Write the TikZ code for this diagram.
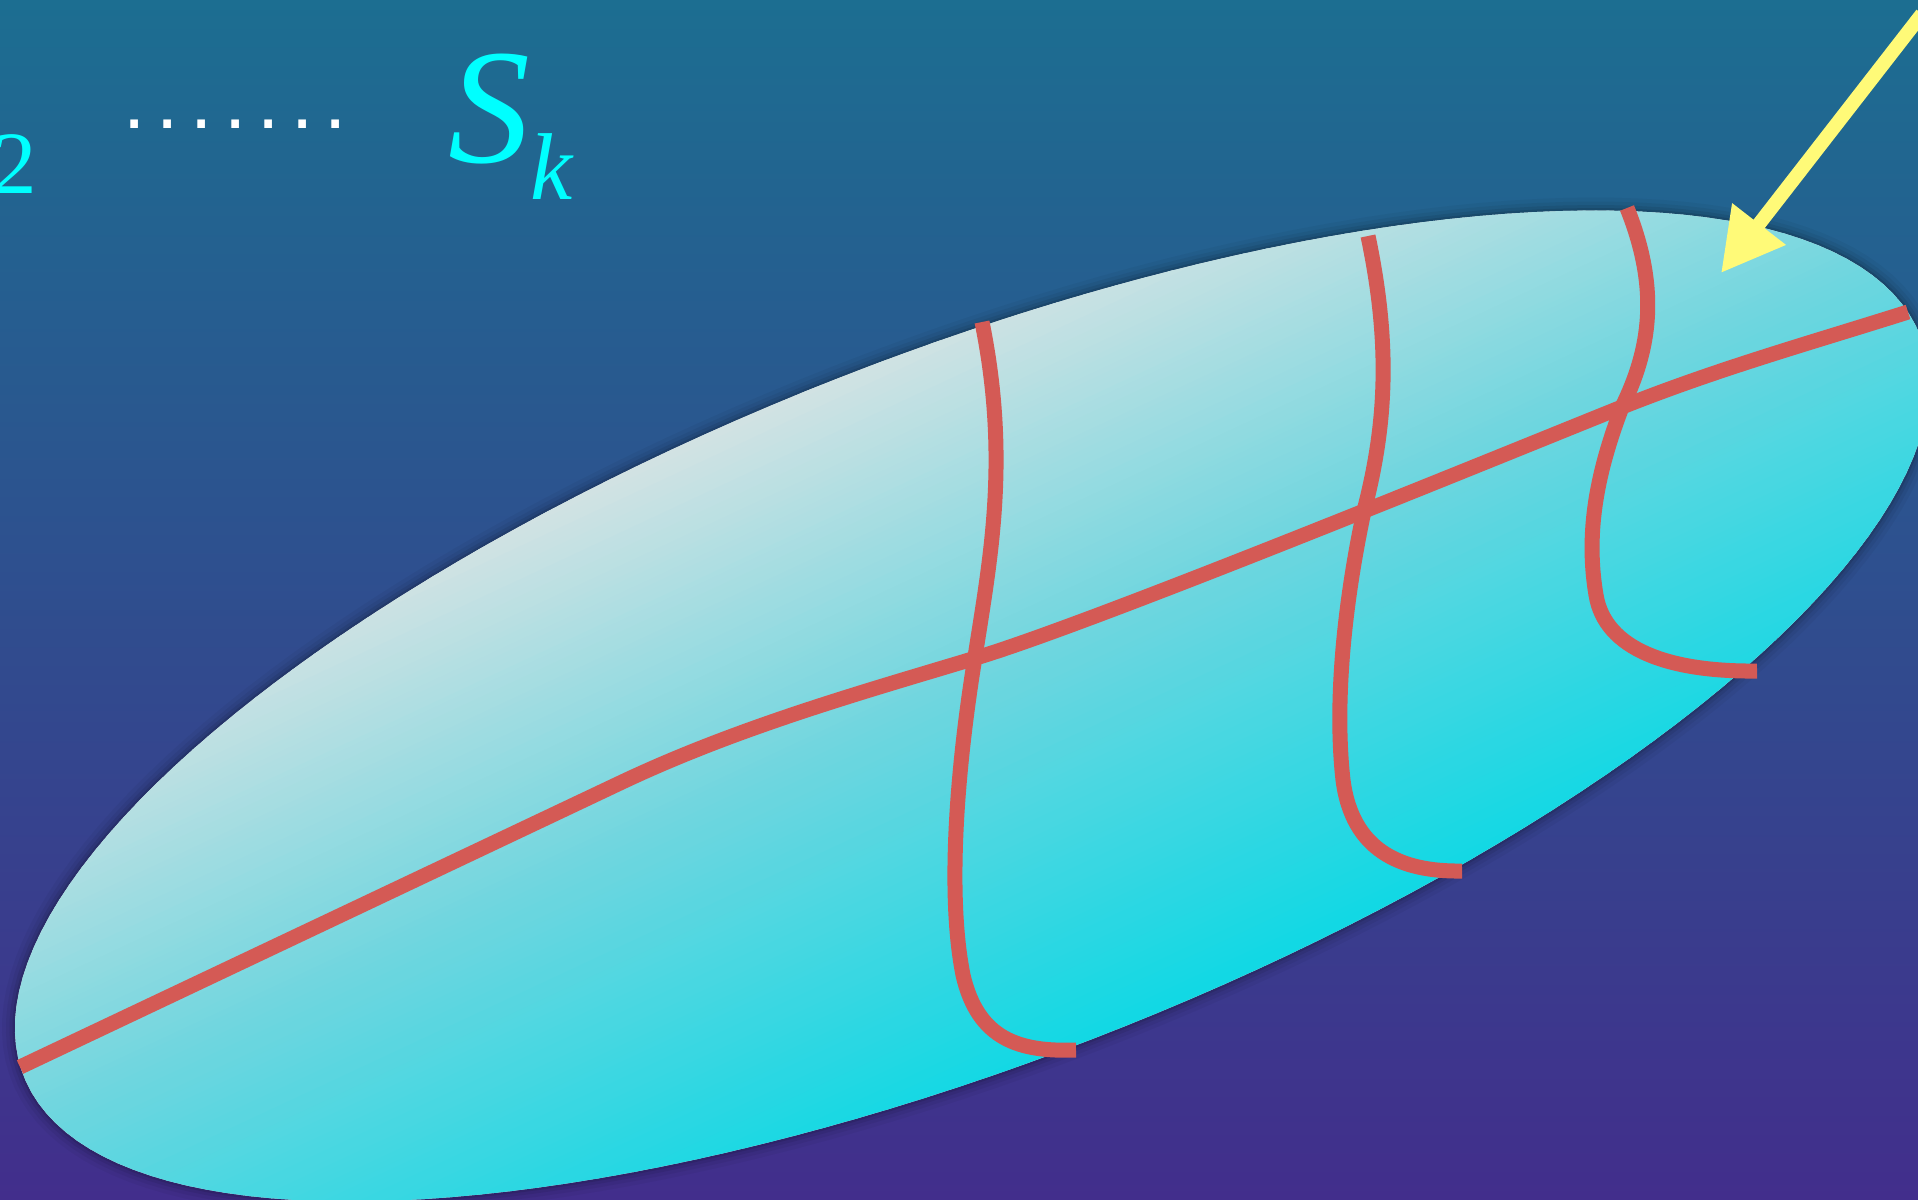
\documentclass[tikz,border=0pt]{standalone}
\usepackage{fontspec}
\setmainfont{Liberation Serif}
\newfontfamily\dotfont{Liberation Sans}
\usetikzlibrary{arrows.meta}
\definecolor{bgtop}{RGB}{28,110,145}
\definecolor{bgmid}{RGB}{43,80,148}
\definecolor{bgbot}{RGB}{66,46,140}
\definecolor{elltop}{RGB}{222,228,228}
\definecolor{ellmid}{RGB}{112,214,223}
\definecolor{ellbot}{RGB}{18,216,228}
\definecolor{redline}{RGB}{212,90,85}
\definecolor{arrowyellow}{RGB}{255,250,120}
\definecolor{labelcyan}{RGB}{0,255,255}
\newcommand\dotsep{\kern3.23pt}
\begin{document}
\begin{tikzpicture}[x=0.01cm,y=-0.01cm,
  redcurve/.style={draw=redline, line width=0.15cm},
  cyantext/.style={text=labelcyan, inner sep=0pt, anchor=base west}]
\useasboundingbox (0,0) rectangle (1918,1200);
\clip (0,0) rectangle (1918,1200);
\shade[top color=bgtop, middle color=bgmid, bottom color=bgbot] (0,0) rectangle (1918,1200);
% soft shadow of the ellipse
\foreach \w/\o in {26/0.04,18/0.05,11/0.07,5/0.1}{
  \draw[black, opacity=\o, line width=\w*0.01cm] plot[domain=0:360, samples=180, variable=\t]
    ({972+1018*cos(\t)*cos(21.3)+354*sin(\t)*sin(21.3)}, {706-1018*cos(\t)*sin(21.3)+354*sin(\t)*cos(21.3)}) -- cycle;
}
% ellipse with a tilted linear gradient
\begin{scope}
  \clip plot[domain=0:360, samples=180, variable=\t]
    ({972+1018*cos(\t)*cos(21.3)+354*sin(\t)*sin(21.3)}, {706-1018*cos(\t)*sin(21.3)+354*sin(\t)*cos(21.3)}) -- cycle;
  \fill[elltop] (0,0) rectangle (1918,1200);
  \foreach \i in {0,...,149}{
    \pgfmathsetmacro\p{650+5*\i}
    \pgfmathsetmacro\q{\p+6}
    \ifnum\i<75
      \pgfmathtruncatemacro\f{100-100*\i/75}
      \colorlet{bandcol}{elltop!\f!ellmid}
    \else
      \pgfmathtruncatemacro\f{100-100*(\i-75)/75}
      \colorlet{bandcol}{ellmid!\f!ellbot}
    \fi
    \fill[bandcol] ({\p*0.4226+2300*0.9063},{\p*0.9063-2300*0.4226}) -- ({\p*0.4226-2300*0.9063},{\p*0.9063+2300*0.4226}) -- ({\q*0.4226-2300*0.9063},{\q*0.9063+2300*0.4226}) -- ({\q*0.4226+2300*0.9063},{\q*0.9063-2300*0.4226}) -- cycle;
  }
  \fill[ellbot] ({1400*0.4226+2300*0.9063},{1400*0.9063-2300*0.4226}) -- ({1400*0.4226-2300*0.9063},{1400*0.9063+2300*0.4226}) -- ({3000*0.4226-2300*0.9063},{3000*0.9063+2300*0.4226}) -- ({3000*0.4226+2300*0.9063},{3000*0.9063-2300*0.4226}) -- cycle;
\end{scope}
% red curves
\draw[redcurve] (20,1067) -- (620,783) .. controls (740,726) and (870,690) .. (979,657)
  .. controls (1100,620) and (1500,456) .. (1622,407)
  .. controls (1720,368) and (1810,343) .. (1908,312);
\draw[redcurve] (982,322) .. controls (1010,460) and (990,560) .. (975,657)
  .. controls (955,780) and (948,900) .. (963,975)
  .. controls (978,1040) and (1020,1052) .. (1076,1050);
\draw[redcurve] (1368,236) .. controls (1392,350) and (1385,430) .. (1364,511)
  .. controls (1345,600) and (1334,700) .. (1343,780)
  .. controls (1352,850) and (1400,872) .. (1462,871);
\draw[redcurve] (1627,208) .. controls (1660,290) and (1650,350) .. (1622,407)
  .. controls (1598,470) and (1585,530) .. (1596,595)
  .. controls (1605,650) and (1670,672) .. (1757,671);
% yellow arrow
\coordinate (arrowstart) at (1922,14);
\coordinate (arrowtip) at (1721,273);
\draw[arrowyellow, line width=0.14cm, -{Triangle[length=0.62cm, width=0.64cm]}] (arrowstart) -- (arrowtip);
% labels
\node[cyantext] (two) at (-8,193) {\fontsize{25.3pt}{30pt}\selectfont 2};
\node[anchor=base west, inner sep=0pt, text=white] (dots) at (122.6,128)
  {\dotfont\fontsize{22.76pt}{26pt}\selectfont .\dotsep.\dotsep.\dotsep.\dotsep.\dotsep.\dotsep.};
\node[cyantext] (S) at (448,162) {\fontsize{46.6pt}{50pt}\selectfont\itshape S};
\node[cyantext] (k) at (530,199) {\fontsize{27pt}{30pt}\selectfont\itshape k};
\end{tikzpicture}
\end{document}
